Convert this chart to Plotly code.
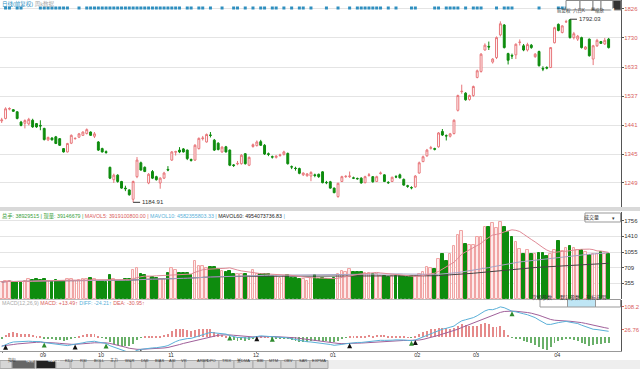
import plotly.graph_objects as go
import pandas as pd

# ---------------- data ----------------
opens = [1455,1463,1494,1492,1485,1451,1447,1445,1457,1446,1440,1430,1392,1398,1402,1396,1363,1352,1381,1396,
         1401,1407,1413,1418,1404,1385,1363,1353,1301,1260,1275,1254,1232,1226,1195,1270,1316,1301,1249,1287,
         1270,1249,1265,1294,1325,1351,1358,1362,1358,1327,1325,1363,1396,1385,1408,1391,1381,1352,1369,1358,
         1309,1312,1313,1346,1308,1370,1373,1386,1374,1346,1336,1334,1340,1344,1347,1303,1298,1297,1276,1273,
         1272,1276,1278,1286,1251,1253,1232,1204,1254,1270,1270,1266,1264,1265,1250,1274,1270,1254,1280,1276,
         1251,1254,1270,1276,1261,1240,1234,1236,1282,1320,1339,1364,1363,1369,1420,1406,1404,1413,1490,1552,
         1547,1526,1539,1599,1619,1690,1702,1650,1665,1740,1773,1678,1672,1674,1715,1704,1690,1706,1668,1685,
         1629,1632,1632,1714,1775,1748,1783,1790,1731,1726,1731,1693,1726,1660,1704,1718,1710,1726]
highs = [1465,1500,1500,1494,1487,1455,1460,1465,1462,1448,1457,1432,1403,1401,1405,1398,1365,1382,1410,1400,
         1415,1420,1430,1420,1418,1388,1366,1357,1303,1280,1278,1256,1240,1228,1257,1335,1320,1304,1282,1292,
         1273,1268,1286,1305,1355,1356,1368,1365,1360,1330,1378,1400,1405,1413,1418,1395,1384,1371,1372,1360,
         1312,1322,1345,1348,1337,1380,1390,1392,1378,1350,1340,1341,1346,1356,1350,1307,1303,1300,1284,1282,
         1288,1280,1280,1288,1256,1256,1234,1250,1273,1275,1287,1270,1267,1268,1273,1282,1272,1273,1287,1278,
         1255,1270,1275,1280,1264,1243,1238,1275,1320,1340,1362,1372,1366,1418,1428,1410,1415,1460,1542,1575,
         1550,1542,1572,1625,1680,1712,1718,1663,1735,1785,1776,1681,1678,1712,1725,1710,1714,1710,1680,1688,
         1636,1636,1700,1767,1778,1772,1790,1792.03,1750,1740,1734,1703,1728,1707,1727,1720,1730,1730]
lows = [1448,1460,1490,1485,1460,1437,1430,1440,1432,1432,1424,1390,1388,1390,1378,1372,1350,1350,1378,1393,
        1398,1405,1410,1405,1398,1355,1350,1346,1262,1249,1250,1230,1222,1207,1184.91,1265,1290,1285,1245,1262,
        1257,1230,1262,1288,1322,1340,1348,1350,1325,1320,1322,1360,1390,1383,1400,1355,1357,1349,1350,1305,
        1302,1308,1310,1310,1305,1366,1370,1372,1342,1338,1330,1330,1336,1340,1310,1295,1290,1278,1272,1270,
        1255,1268,1266,1248,1245,1230,1215,1200,1252,1266,1266,1262,1260,1247,1248,1270,1250,1252,1277,1252,
        1246,1252,1265,1264,1240,1233,1228,1233,1280,1318,1336,1360,1357,1366,1405,1390,1400,1410,1486,1545,
        1522,1522,1535,1596,1615,1688,1690,1645,1660,1735,1695,1642,1660,1660,1705,1686,1685,1694,1664,1635,
        1620,1626,1630,1712,1752,1745,1780,1728,1725,1720,1695,1690,1668,1640,1700,1710,1707,1695]
closes = [1458,1495,1496,1487,1463,1440,1456,1460,1435,1435,1438,1393,1400,1392,1380,1374,1352,1380,1407,1397,
          1412,1418,1426,1407,1412,1358,1352,1350,1265,1275,1254,1232,1230,1210,1254,1325,1292,1287,1278,1265,
          1260,1265,1282,1292,1352,1353,1352,1352,1330,1324,1374,1397,1398,1410,1407,1358,1360,1368,1352,1308,
          1307,1314,1341,1313,1334,1376,1385,1374,1345,1344,1335,1338,1342,1352,1313,1302,1297,1281,1282,1279,
          1284,1274,1270,1250,1250,1232,1217,1248,1270,1271,1272,1265,1263,1249,1270,1276,1253,1270,1282,1254,
          1250,1268,1269,1266,1242,1238,1233,1272,1316,1336,1358,1366,1361,1415,1408,1405,1412,1457,1539,1553,
          1525,1539,1569,1621,1676,1706,1700,1660,1731,1777,1698,1656,1670,1709,1716,1690,1708,1698,1676,1638,
          1627,1630,1698,1764,1755,1770,1784,1731,1744,1736,1698,1700,1671,1704,1722,1712,1722,1698]
volumes = [383,405,405,383,383,383,405,442,427,442,427,442,405,405,427,405,405,442,442,405,
           427,442,442,479,442,405,405,390,538,457,405,405,442,457,663,700,552,530,501,501,
           464,457,457,589,700,663,575,589,589,530,855,745,745,700,722,715,678,626,604,626,
           552,552,552,552,516,648,552,552,567,552,516,516,479,516,538,479,479,442,442,405,
           479,530,442,470,450,450,465,560,634,597,670,612,597,597,575,575,560,560,523,508,
           486,508,523,508,508,486,508,523,560,612,723,708,670,906,1024,855,1024,1186,1444,1533,
           1245,1223,1223,1393,1393,1614,1628,1702,1591,1724,1614,1518,1393,1275,1127,1024,1112,1024,1024,1039,
           1039,965,1024,1112,1297,1076,1150,1186,1150,1112,1112,1053,980,1002,1002,1053,1002,1024]
# MACD lines at the left edge of the picture
diff_start = -32.0
dea_start = -30.0

price_ticks = [1826, 1730, 1633, 1537, 1441, 1345, 1249]
vol_ticks = [355, 709, 1055, 1410, 1756]
macd_ticks = [108.2, 26.76]
month_labels = ["08", "09", "10", "11", "12", "01", "02", "03", "04"]
month_pos = [0.3, 10.7, 25.7, 43.8, 65.8, 85.7, 107.5, 122.7, 143.7]
signal_dots = [1, 2, 4, 5, 10, 11, 12, 13, 14, 15, 16, 17, 20, 22, 23, 24, 25, 26, 27, 28, 29, 30, 31, 32,
               33, 34, 35, 36, 37, 38, 39, 40, 41, 42, 43, 44, 45, 46, 48, 49, 51, 52, 54, 57, 60, 61, 63,
               65, 67, 68, 70, 71, 73, 75, 77, 78, 80, 84, 87, 90, 92, 93, 94, 95, 96, 97, 98, 100, 102,
               106, 107, 112, 113, 115, 116, 117, 118, 120, 122, 123, 124, 128, 130, 131, 132, 139, 144,
               145, 146, 156, 157]
golden_cross = [1, 19, 36, 66, 90, 107]
death_cross = [11, 27, 59, 70, 106, 132]
toolbar_tabs = ["指标", "模板", "MACD", "KDJ", "RSI", "BOLL", "主力", "W&R", "DMI", "BIAS", "ASI", "VR",
                "ARBR", "DPO", "TRIX", "量DMA", "BBI", "MTM", "OBV", "SAR", "EXPMA"]

# ---------------- derived series ----------------
N = len(closes)
idx = list(range(N))
vol = pd.Series(volumes, dtype=float)

def ema_from(values, span, start):
    a = 2.0 / (span + 1)
    out = [start]
    for v in values[1:]:
        out.append(out[-1] + a * (v - out[-1]))
    return out

e12 = ema_from(closes, 12, closes[0] + diff_start / 2)
e26 = ema_from(closes, 26, closes[0] - diff_start / 2)
diff = [a - b for a, b in zip(e12, e26)]
dea = ema_from(diff, 9, dea_start)
hist = [2 * (d - e) for d, e in zip(diff, dea)]
ma_a = vol.rolling(10, min_periods=1).mean()
ma_b = vol.rolling(60, min_periods=1).mean()
ma_c = vol.rolling(120, min_periods=1).mean()

# ---------------- layout geometry ----------------
W, H = 640, 369
PL, PR, PT, PB = 0, 19, 0, 18
PH = H - PT - PB  # 351
PW = W - PL - PR  # 621
def py(pix):  # pixel y -> paper y
    return (PH - pix) / PH
def px(pix):
    return pix / PW

FONT = "Liberation Sans, Arial, Noto Sans CJK SC, sans-serif"
RED = "#e8767a"
GREEN = "#0e8c0e"

fig = go.Figure()

fig.add_trace(go.Candlestick(
    x=idx, open=opens, high=highs, low=lows, close=closes,
    increasing=dict(line=dict(color=RED, width=1), fillcolor="#ffffff"),
    decreasing=dict(line=dict(color=GREEN, width=1), fillcolor=GREEN),
    whiskerwidth=0, xaxis="x", yaxis="y", showlegend=False, hoverinfo="skip"))

top_price = 1855.8
dot_y = top_price - 8 * 3.316
fig.add_trace(go.Scatter(x=signal_dots, y=[dot_y] * len(signal_dots), mode="markers",
                         marker=dict(color="#2f8fbf", size=3, symbol="square"),
                         xaxis="x", yaxis="y", showlegend=False, hoverinfo="skip"))

up = [c >= o for o, c in zip(opens, closes)]
fig.add_trace(go.Bar(x=idx, y=volumes, width=0.68,
                     marker=dict(color=["#fdeaea" if u else GREEN for u in up],
                                 line=dict(color=["#f0a4a4" if u else GREEN for u in up], width=1)),
                     xaxis="x2", yaxis="y2", showlegend=False, hoverinfo="skip"))
fig.add_trace(go.Scatter(x=idx, y=ma_c, mode="lines", line=dict(color="#444444", width=1),
                         xaxis="x2", yaxis="y2", showlegend=False, hoverinfo="skip"))
fig.add_trace(go.Scatter(x=idx, y=ma_b, mode="lines", line=dict(color="#a7a2c4", width=1),
                         xaxis="x2", yaxis="y2", showlegend=False, hoverinfo="skip"))
fig.add_trace(go.Scatter(x=idx, y=ma_a, mode="lines", line=dict(color="#e08a96", width=1),
                         xaxis="x2", yaxis="y2", showlegend=False, hoverinfo="skip"))

fig.add_trace(go.Bar(x=idx, y=hist, width=0.25,
                     marker=dict(color=["#e58a8a" if h >= 0 else "#6ab06a" for h in hist], line=dict(width=0)),
                     xaxis="x3", yaxis="y3", showlegend=False, hoverinfo="skip"))
fig.add_trace(go.Scatter(x=idx, y=dea, mode="lines", line=dict(color="#a0609a", width=1),
                         xaxis="x3", yaxis="y3", showlegend=False, hoverinfo="skip"))
fig.add_trace(go.Scatter(x=idx, y=diff, mode="lines", line=dict(color="#5ab0d8", width=1),
                         xaxis="x3", yaxis="y3", showlegend=False, hoverinfo="skip"))
fig.add_trace(go.Scatter(x=golden_cross, y=[diff[i] for i in golden_cross], mode="markers",
                         marker=dict(symbol="arrow-up", size=5, color="#111111"),
                         xaxis="x3", yaxis="y3", showlegend=False, hoverinfo="skip"))
fig.add_trace(go.Scatter(x=death_cross, y=[diff[i] for i in death_cross], mode="markers",
                         marker=dict(symbol="arrow-up", size=5, color="#2e8b2e"),
                         xaxis="x3", yaxis="y3", showlegend=False, hoverinfo="skip"))

xr = [-0.44, 160.2]
common_x = dict(range=xr, showgrid=False, zeroline=False, fixedrange=True, automargin=False)
ycommon = dict(side="right", tickmode="array", showline=True, linecolor="#555", linewidth=1,
               zeroline=False, fixedrange=True, ticks="outside", ticklen=2, automargin=False,
               ticklabelstandoff=-1)
fig.update_layout(
    width=W, height=H, margin=dict(l=PL, r=PR, t=PT, b=PB, autoexpand=False),
    paper_bgcolor="white", plot_bgcolor="white",
    font=dict(family=FONT, size=7, color="#333"),
    showlegend=False, bargap=0,
    xaxis=dict(domain=[0, 1], anchor="y", showticklabels=False, rangeslider=dict(visible=False), **common_x),
    xaxis2=dict(domain=[0, 1], anchor="y2", showticklabels=False, matches="x", **common_x),
    xaxis3=dict(domain=[0, 1], anchor="y3", tickmode="array", tickvals=month_pos, ticktext=month_labels,
                ticks="outside", ticklen=1, tickcolor="#888", tickfont=dict(size=5.5, color="#333"),
                ticklabelstandoff=-3,
                showline=True, linecolor="#999", linewidth=1, matches="x", **common_x),
    yaxis=dict(domain=[py(207), 1], range=[1169.4, top_price], tickvals=price_ticks,
               ticktext=[str(t) for t in price_ticks], tickfont=dict(size=6, color="#d9605c"),
               gridcolor="#e4e4e4", gridwidth=1, tickcolor="#555", **ycommon),
    yaxis2=dict(domain=[py(299), py(212)], range=[0, 1958], tickvals=vol_ticks,
                ticktext=[str(t) for t in vol_ticks], tickfont=dict(size=6, color="#333"),
                gridcolor="#e4e4e4", tickcolor="#555", **ycommon),
    yaxis3=dict(domain=[0, py(300)], range=[-48.0, 133.0], tickvals=macd_ticks,
                ticktext=["108.2", "26.76"], tickfont=dict(size=6, color="#d9605c"), showgrid=False,
                tickcolor="#d9605c", **ycommon),
)

shapes = []
annots = []
# panel separators
shapes.append(dict(type="rect", xref="paper", yref="paper", x0=0, x1=px(W), y0=py(211), y1=py(207),
                   fillcolor="#d9d9d9", line=dict(width=0), layer="above"))
shapes.append(dict(type="line", xref="paper", yref="paper", x0=0, x1=1, y0=py(299.5), y1=py(299.5),
                   line=dict(color="#bbbbbb", width=1)))

# top-left title
annots.append(dict(xref="paper", yref="paper", x=px(0), y=py(3.5), xanchor="left", yanchor="middle",
                   showarrow=False, text="<span style='color:#2f8fbf'>日线(前复权)</span> "
                                         "<span style='color:#aaaaaa'>周k数据</span>",
                   font=dict(size=5.5)))
# max / min labels
annots.append(dict(x=147, y=1792.03, xref="x", yref="y", text="1792.03", showarrow=True, arrowhead=0,
                   ax=7, ay=0, xanchor="left", arrowwidth=1, arrowcolor="#333", standoff=0,
                   font=dict(size=6, color="#333")))
annots.append(dict(x=34, y=1184.91, xref="x", yref="y", text="1184.91", showarrow=True, arrowhead=0,
                   ax=7, ay=0, xanchor="left", arrowwidth=1, arrowcolor="#333", standoff=0,
                   font=dict(size=6, color="#333")))
# volume header
annots.append(dict(xref="paper", yref="paper", x=0, y=py(216.5), xanchor="left", yanchor="middle",
                   showarrow=False, font=dict(size=5.3),
                   text="<span style='color:#3aa03a'>总手: 38929515 | 现量: 39146679 | </span>"
                        "<span style='color:#d9605c'>MAVOL5: 3919100800.00 | </span>"
                        "<span style='color:#5ab0d8'>MAVOL10: 4582355803.33 | </span>"
                        "<span style='color:#222'>MAVOL60: 4954073736.83 </span>"
                        "<span style='color:#5ab0d8'>|</span>"))
# macd header
annots.append(dict(xref="paper", yref="paper", x=0, y=py(303), xanchor="left", yanchor="middle",
                   showarrow=False, font=dict(size=5.3),
                   text="<span style='color:#aaaaaa'>MACD(12,26,9)</span> "
                        "<span style='color:#d9605c'>MACD: +13.49↑</span> "
                        "<span style='color:#5ab0d8'>DIFF: -24.21↑</span> "
                        "<span style='color:#d9605c'>DEA: -30.95↑</span>"))
# 成交量 dropdown
shapes.append(dict(type="rect", xref="paper", yref="paper", x0=px(585), x1=px(620.5), y0=py(222),
                   y1=py(213), fillcolor="white", line=dict(color="#999", width=1)))
annots.append(dict(xref="paper", yref="paper", x=px(601), y=py(217.5), showarrow=False,
                   text="成交量", font=dict(size=5, color="#333")))
annots.append(dict(xref="paper", yref="paper", x=px(616.5), y=py(217.5), showarrow=False,
                   text="▾", font=dict(size=5, color="#333")))
# macd buttons
for (x0, x1, label, bg) in [(540, 567.5, "次级参数", "white"), (567.5, 595.5, "默认参数", "#bfe6f5"),
                            (595.5, 620.5, "指标说明", "white")]:
    shapes.append(dict(type="rect", xref="paper", yref="paper", x0=px(x0), x1=px(x1), y0=py(307),
                       y1=py(299.5), fillcolor=bg, line=dict(color="#999", width=1), layer="above"))
    annots.append(dict(xref="paper", yref="paper", x=px((x0 + x1) / 2), y=py(303.3), showarrow=False,
                       text=label, font=dict(size=5, color="#333")))
# top right buttons
for (x0, x1, label, bg, fc) in [(566, 580, "前复权", "white", "#333"), (580, 593, "六日K", "white", "#333"),
                                (593, 601, "⊞", "white", "#333"), (601, 613, "缩放", "white", "#333"),
                                (613, 621, "◀", "#333333", "white")]:
    shapes.append(dict(type="rect", xref="paper", yref="paper", x0=px(x0), x1=px(x1), y0=py(10),
                       y1=py(0.5), fillcolor=bg, line=dict(color="#888", width=1)))
    annots.append(dict(xref="paper", yref="paper", x=px((x0 + x1) / 2), y=py(5.2), showarrow=False,
                       text=label, font=dict(size=4.5, color=fc)))
# bottom toolbar
tab_x = [(0, 12), (12, 35), (36, 56), (56, 70), (71, 84), (84, 100), (100, 115), (115, 131), (131, 146),
         (146, 160), (160, 173), (173, 185), (185, 204), (204, 219), (219, 234), (234, 253), (253, 266),
         (266, 281), (281, 296), (296, 310), (310, 328)]
shapes.append(dict(type="rect", xref="paper", yref="paper", x0=0, x1=px(W), y0=py(369), y1=py(360),
                   fillcolor="#eeeeee", line=dict(width=0), layer="below"))
for k, (name, (x0, x1)) in enumerate(zip(toolbar_tabs, tab_x)):
    if k == 1:
        bg, fc = "#666666", "white"
    elif k == 2:
        bg, fc = "#222222", "white"
    else:
        bg, fc = "#d6d6d6", "#333"
    shapes.append(dict(type="rect", xref="paper", yref="paper", x0=px(x0), x1=px(x1), y0=py(368.5),
                       y1=py(360.5), fillcolor=bg, line=dict(color="#aaa", width=1), layer="below"))
    annots.append(dict(xref="paper", yref="paper", x=px((x0 + x1) / 2), y=py(364.7), showarrow=False,
                       text=name, font=dict(size=4.0, color=fc)))

fig.update_layout(shapes=shapes, annotations=annots)
fig.write_html("out.html", config={"displayModeBar": False},
               post_script="document.body.style.margin='0px';document.body.style.overflow='hidden';")
